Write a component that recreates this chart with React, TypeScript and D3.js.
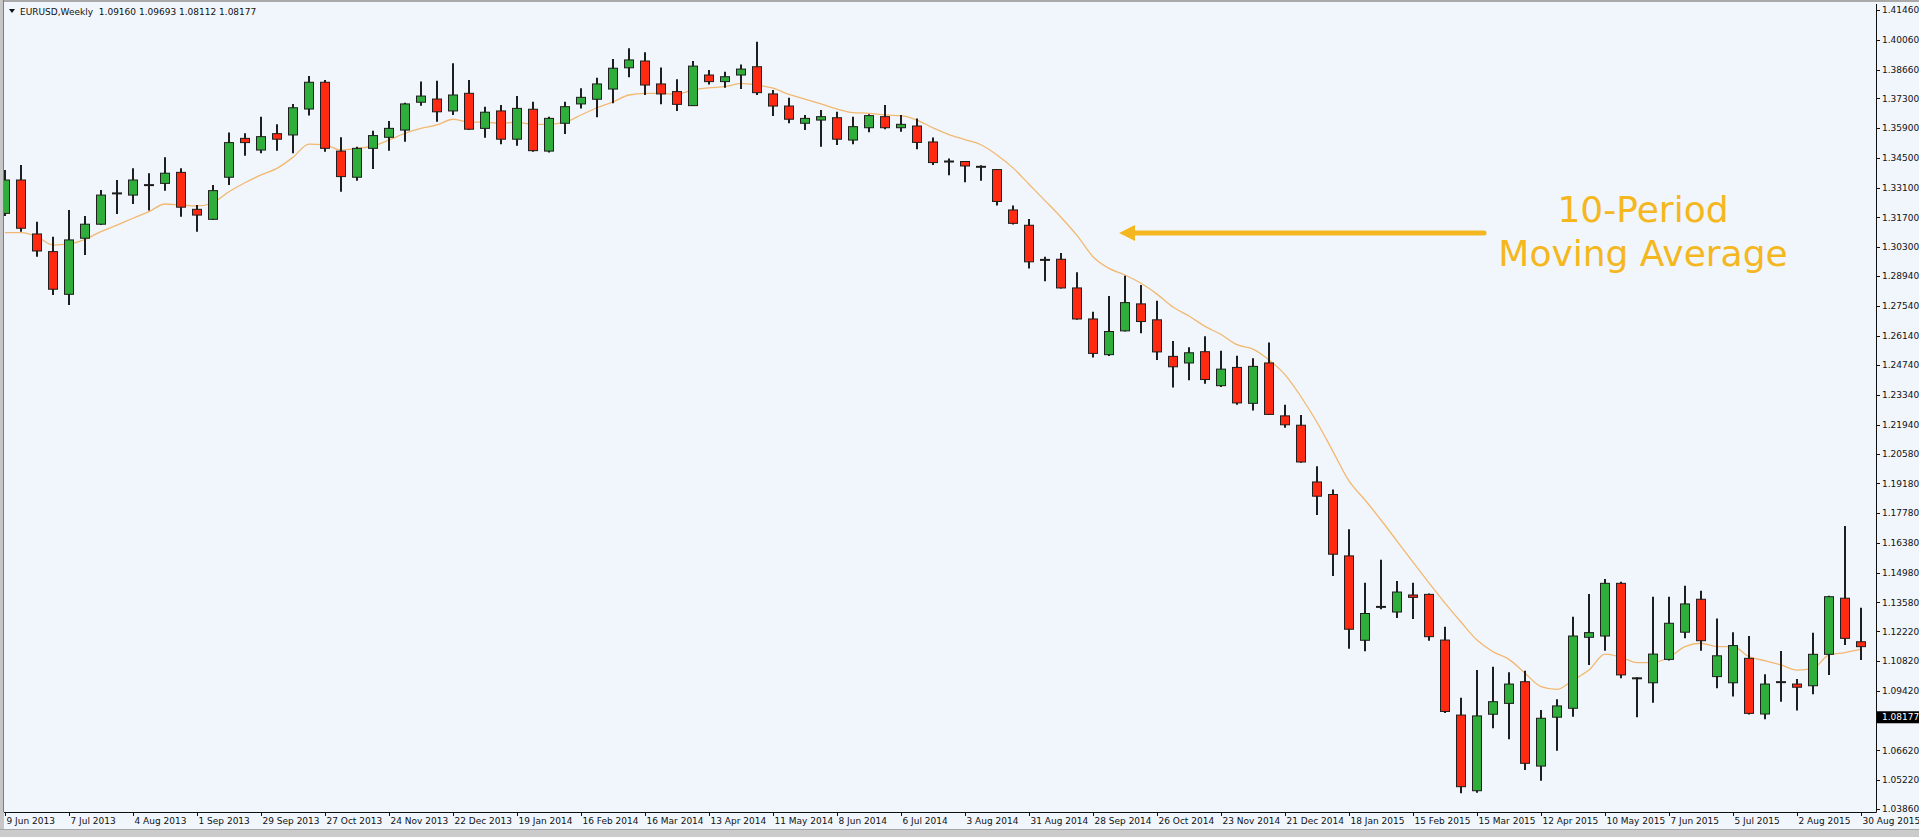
import React, { useEffect } from 'react';
import * as d3 from 'd3';

// EURUSD weekly candles, 9 Jun 2013 .. 30 Aug 2015
const dateLabels = [
  '9 Jun 2013', '7 Jul 2013', '4 Aug 2013', '1 Sep 2013', '29 Sep 2013', '27 Oct 2013',
  '24 Nov 2013', '22 Dec 2013', '19 Jan 2014', '16 Feb 2014', '16 Mar 2014', '13 Apr 2014',
  '11 May 2014', '8 Jun 2014', '6 Jul 2014', '3 Aug 2014', '31 Aug 2014', '28 Sep 2014',
  '26 Oct 2014', '23 Nov 2014', '21 Dec 2014', '18 Jan 2015', '15 Feb 2015', '15 Mar 2015',
  '12 Apr 2015', '10 May 2015', '7 Jun 2015', '5 Jul 2015', '2 Aug 2015', '30 Aug 2015',
];

const openP = [
  1.3189, 1.3346, 1.3092, 1.3009, 1.2808, 1.3072, 1.3138, 1.3281, 1.3275, 1.3321,
  1.3330, 1.3382, 1.3208, 1.3161, 1.3359, 1.3542, 1.3487, 1.3564, 1.3558, 1.3680,
  1.3806, 1.3482, 1.3359, 1.3495, 1.3547, 1.3581, 1.3712, 1.3727, 1.3671, 1.3754,
  1.3589, 1.3671, 1.3538, 1.3679, 1.3482, 1.3613, 1.3704, 1.3726, 1.3774, 1.3874,
  1.3906, 1.3798, 1.3762, 1.3696, 1.3840, 1.3809, 1.3840, 1.3879, 1.3751, 1.3694,
  1.3613, 1.3628, 1.3639, 1.3534, 1.3592, 1.3644, 1.3592, 1.3600, 1.3525, 1.3432,
  1.3433, 1.3408, 1.3395, 1.3205, 1.3133, 1.2970, 1.2973, 1.2838, 1.2692, 1.2524,
  1.2636, 1.2763, 1.2688, 1.2516, 1.2485, 1.2538, 1.2378, 1.2464, 1.2295, 1.2485,
  1.2236, 1.2192, 1.1925, 1.1866, 1.1577, 1.1180, 1.1337, 1.1313, 1.1393, 1.1396,
  1.1181, 1.0828, 1.0472, 1.0832, 1.0883, 1.0985, 1.0588, 1.0818, 1.0860, 1.1194,
  1.1200, 1.1448, 1.1001, 1.0980, 1.1090, 1.1218, 1.1373, 1.1009, 1.0980, 1.1095,
  1.0833, 1.0981, 1.0974, 1.0966, 1.1114, 1.1378, 1.1173,
];

const highP = [
  1.3393, 1.3417, 1.3150, 1.3079, 1.3205, 1.3177, 1.3299, 1.3346, 1.3401, 1.3378,
  1.3453, 1.3401, 1.3228, 1.3322, 1.3569, 1.3566, 1.3644, 1.3608, 1.3704, 1.3835,
  1.3817, 1.3547, 1.3503, 1.3578, 1.3624, 1.3710, 1.3809, 1.3813, 1.3895, 1.3817,
  1.3691, 1.3699, 1.3741, 1.3714, 1.3644, 1.3714, 1.3778, 1.3827, 1.3915, 1.3966,
  1.3947, 1.3876, 1.3820, 1.3906, 1.3864, 1.3856, 1.3890, 1.3997, 1.3770, 1.3733,
  1.3652, 1.3675, 1.3667, 1.3644, 1.3655, 1.3699, 1.3652, 1.3636, 1.3546, 1.3447,
  1.3435, 1.3416, 1.3398, 1.3226, 1.3162, 1.2985, 1.3002, 1.2912, 1.2726, 1.2800,
  1.2895, 1.2852, 1.2778, 1.2588, 1.2559, 1.2611, 1.2542, 1.2519, 1.2507, 1.2581,
  1.2288, 1.2240, 1.1999, 1.1890, 1.1702, 1.1451, 1.1559, 1.1459, 1.1451, 1.1400,
  1.1244, 1.0910, 1.1040, 1.1056, 1.1029, 1.1037, 1.0852, 1.0902, 1.1291, 1.1398,
  1.1468, 1.1455, 1.1006, 1.1385, 1.1385, 1.1437, 1.1413, 1.1283, 1.1218, 1.1200,
  1.1020, 1.1130, 1.0998, 1.1216, 1.1389, 1.1718, 1.1333,
];

const lowP = [
  1.3177, 1.3103, 1.2985, 1.2805, 1.2758, 1.2993, 1.3134, 1.3186, 1.3233, 1.3202,
  1.3296, 1.3173, 1.3103, 1.3158, 1.3322, 1.3460, 1.3472, 1.3484, 1.3472, 1.3649,
  1.3479, 1.3291, 1.3343, 1.3398, 1.3484, 1.3526, 1.3696, 1.3620, 1.3652, 1.3581,
  1.3545, 1.3514, 1.3507, 1.3479, 1.3476, 1.3562, 1.3683, 1.3641, 1.3707, 1.3829,
  1.3746, 1.3702, 1.3671, 1.3694, 1.3796, 1.3780, 1.3774, 1.3746, 1.3647, 1.3613,
  1.3581, 1.3503, 1.3511, 1.3514, 1.3571, 1.3585, 1.3573, 1.3491, 1.3417, 1.3368,
  1.3335, 1.3343, 1.3226, 1.3137, 1.2930, 1.2869, 1.2835, 1.2688, 1.2511, 1.2518,
  1.2633, 1.2625, 1.2499, 1.2370, 1.2404, 1.2387, 1.2372, 1.2288, 1.2261, 1.2240,
  1.2180, 1.2016, 1.1770, 1.1482, 1.1140, 1.1128, 1.1326, 1.1285, 1.1280, 1.1178,
  1.0838, 1.0460, 1.0462, 1.0766, 1.0714, 1.0570, 1.0519, 1.0660, 1.0820, 1.1064,
  1.1131, 1.1001, 1.0818, 1.0886, 1.1085, 1.1189, 1.1131, 1.0954, 1.0915, 1.0831,
  1.0808, 1.0891, 1.0849, 1.0926, 1.1017, 1.1158, 1.1087,
];

const closeP = [
  1.3346, 1.3119, 1.3012, 1.2832, 1.3064, 1.3138, 1.3275, 1.3283, 1.3346, 1.3322,
  1.3378, 1.3218, 1.3181, 1.3296, 1.3522, 1.3522, 1.3550, 1.3538, 1.3686, 1.3806,
  1.3495, 1.3362, 1.3495, 1.3555, 1.3589, 1.3704, 1.3741, 1.3667, 1.3746, 1.3585,
  1.3665, 1.3538, 1.3683, 1.3484, 1.3636, 1.3691, 1.3735, 1.3798, 1.3872, 1.3911,
  1.3793, 1.3751, 1.3702, 1.3882, 1.3809, 1.3832, 1.3868, 1.3757, 1.3694, 1.3632,
  1.3636, 1.3644, 1.3538, 1.3597, 1.3649, 1.3592, 1.3608, 1.3523, 1.3428, 1.3433,
  1.3412, 1.3407, 1.3245, 1.3142, 1.2961, 1.2968, 1.2838, 1.2692, 1.2530, 1.2633,
  1.2769, 1.2680, 1.2537, 1.2467, 1.2533, 1.2407, 1.2456, 1.2297, 1.2469, 1.2243,
  1.2194, 1.2019, 1.1858, 1.1585, 1.1232, 1.1306, 1.1335, 1.1407, 1.1382, 1.1197,
  1.0845, 1.0491, 1.0824, 1.0891, 1.0974, 1.0601, 1.0813, 1.0871, 1.1200, 1.1216,
  1.1448, 1.1017, 1.0993, 1.1115, 1.1260, 1.1351, 1.1178, 1.1107, 1.1155, 1.0836,
  1.0974, 1.0983, 1.0959, 1.1114, 1.1385, 1.1189, 1.1150,
];

// 10-period moving average as drawn on the chart
const ma10 = [
  1.3098, 1.3098, 1.3079, 1.3040, 1.3045, 1.3067, 1.3103, 1.3134, 1.3166, 1.3197,
  1.3233, 1.3228, 1.3224, 1.3239, 1.3291, 1.3333, 1.3370, 1.3401, 1.3453, 1.3515,
  1.3511, 1.3487, 1.3495, 1.3506, 1.3534, 1.3566, 1.3589, 1.3605, 1.3632, 1.3618,
  1.3618, 1.3613, 1.3618, 1.3608, 1.3608, 1.3618, 1.3652, 1.3686, 1.3714, 1.3746,
  1.3754, 1.3754, 1.3749, 1.3770, 1.3780, 1.3785, 1.3801, 1.3793, 1.3778, 1.3749,
  1.3727, 1.3704, 1.3680, 1.3663, 1.3660, 1.3652, 1.3649, 1.3628, 1.3591, 1.3560,
  1.3536, 1.3512, 1.3464, 1.3403, 1.3326, 1.3249, 1.3171, 1.3085, 1.2985, 1.2930,
  1.2899, 1.2860, 1.2809, 1.2748, 1.2706, 1.2657, 1.2619, 1.2571, 1.2550, 1.2499,
  1.2430, 1.2326, 1.2206, 1.2068, 1.1930, 1.1840, 1.1746, 1.1647, 1.1548, 1.1450,
  1.1355, 1.1266, 1.1181, 1.1126, 1.1090, 1.1025, 1.0962, 1.0949, 1.0993, 1.1040,
  1.1115, 1.1100, 1.1075, 1.1075, 1.1100, 1.1150, 1.1166, 1.1150, 1.1150, 1.1103,
  1.1084, 1.1064, 1.1040, 1.1048, 1.1111, 1.1122, 1.1138,
];

const priceTicks = [
  1.4146, 1.4006, 1.3866, 1.3730, 1.3590, 1.3450, 1.3310, 1.3170, 1.3030, 1.2894,
  1.2754, 1.2614, 1.2474, 1.2334, 1.2194, 1.2058, 1.1918, 1.1778, 1.1638, 1.1498,
  1.1358, 1.1222, 1.1082, 1.0942, 1.0662, 1.0522, 1.0386,
];

const headerText = 'EURUSD,Weekly  1.09160 1.09693 1.08112 1.08177';
const lastPrice = 1.08177;

const W = 1919;
const H = 837;
const plotLeft = 4;
const plotRight = 1876;
const plotTop = 4;
const plotBottom = 812;

const bullFill = '#2fae3c';
const bearFill = '#ff2a12';
const gold = '#f5b720';
const axisFont = '"DejaVu Sans", Tahoma, sans-serif';

const App: React.FC = () => {
  useEffect(() => {
    document.body.style.margin = '0';
  }, []);

  const n = closeP.length;
  const x = d3.scaleLinear().domain([0, n - 1]).range([5, 5 + 16 * (n - 1)]);
  const y = d3.scaleLinear().domain([1.0386, 1.4146]).range([809, 10]);
  const fmt = d3.format('.5f');

  const maPath = d3.line<number>()
    .x((_, i) => x(i))
    .y(d => y(d))
    .curve(d3.curveMonotoneX)(ma10) || '';

  const candles = closeP.map((c, i) => {
    const o = openP[i];
    const xc = x(i);
    const top = y(Math.max(o, c));
    const bot = y(Math.min(o, c));
    const h = bot - top;
    const up = c >= o;
    return (
      <g key={i}>
        <line x1={xc} x2={xc} y1={y(highP[i])} y2={y(lowP[i])} stroke="#1e1e1e" strokeWidth={2} />
        {h < 2 ? (
          <line x1={xc - 5} x2={xc + 5} y1={top} y2={top} stroke="#1e1e1e" strokeWidth={2} />
        ) : (
          <rect x={xc - 4.5} y={top} width={9} height={h}
            fill={up ? bullFill : bearFill} stroke="#1e1e1e" strokeWidth={1} />
        )}
      </g>
    );
  });

  const arrowY = 233;

  return (
    <div style={{ position: 'absolute', left: 0, top: 0 }}>
      <svg width={W} height={H} style={{ display: 'block' }}>
        <defs>
          <clipPath id="plotClip">
            <rect x={plotLeft} y={plotTop} width={plotRight - plotLeft} height={plotBottom - plotTop} />
          </clipPath>
        </defs>
        <rect x={0} y={0} width={W} height={H} fill="#f0f6fc" />
        {/* window frame bits */}
        <rect x={0} y={0} width={W} height={2} fill="#a9a9a9" />
        <rect x={0} y={0} width={4} height={H} fill="#c6c6c6" />
        <line x1={3.5} x2={3.5} y1={0} y2={plotBottom} stroke="#7d7d7d" strokeWidth={1} />
        <rect x={0} y={829} width={W} height={8} fill="#cbcbcb" />
        <line x1={0} x2={W} y1={829.5} y2={829.5} stroke="#a8a8a8" />

        <g clipPath="url(#plotClip)">
          <path d={maPath} fill="none" stroke="#f3b870" strokeWidth={1.3} />
          {candles}
        </g>

        {/* right price axis */}
        <line x1={plotRight + 0.5} x2={plotRight + 0.5} y1={plotTop} y2={plotBottom + 0.5} stroke="#111" strokeWidth={1} />
        {priceTicks.map(p => (
          <g key={p}>
            <line x1={plotRight} x2={plotRight + 4} y1={Math.round(y(p)) + 0.5} y2={Math.round(y(p)) + 0.5} stroke="#111" />
            <text x={plotRight + 6} y={y(p)} dy="0.35em" fontSize={9} fontFamily={axisFont} fill="#111">
              {fmt(p)}
            </text>
          </g>
        ))}
        <rect x={plotRight + 1} y={y(lastPrice) - 6} width={W - plotRight - 1} height={12} fill="#000" />
        <text x={plotRight + 6} y={y(lastPrice)} dy="0.35em" fontSize={9} fontFamily={axisFont} fill="#fff">
          {fmt(lastPrice)}
        </text>

        {/* bottom time axis */}
        <line x1={plotLeft} x2={plotRight + 0.5} y1={plotBottom + 0.5} y2={plotBottom + 0.5} stroke="#111" strokeWidth={1} />
        {dateLabels.map((d, k) => {
          const xt = Math.round(x(k * 4)) + 0.5;
          return (
            <g key={d}>
              <line x1={xt} x2={xt} y1={plotBottom} y2={plotBottom + 4} stroke="#111" />
              <text x={xt + 1} y={plotBottom + 12} fontSize={9} fontFamily={axisFont} fill="#111">{d}</text>
            </g>
          );
        })}

        {/* header */}
        <path d="M9,9 L15,9 L12,13 Z" fill="#111" />
        <text x={20} y={15} fontSize={9} fontFamily={axisFont} fill="#111" style={{ whiteSpace: 'pre' }}>
          {headerText}
        </text>

        {/* annotation */}
        <line x1={1484} x2={1130} y1={arrowY} y2={arrowY} stroke={gold} strokeWidth={5} strokeLinecap="round" />
        <path d={`M1119,${arrowY} L1135,${arrowY - 8} L1135,${arrowY + 8} Z`} fill={gold} />
        <text x={1643} y={222} textAnchor="middle" fontSize={36} fontFamily={axisFont} fill={gold}>10-Period</text>
        <text x={1643} y={266} textAnchor="middle" fontSize={36} fontFamily={axisFont} fill={gold}>Moving Average</text>
      </svg>
    </div>
  );
};

export default App;
